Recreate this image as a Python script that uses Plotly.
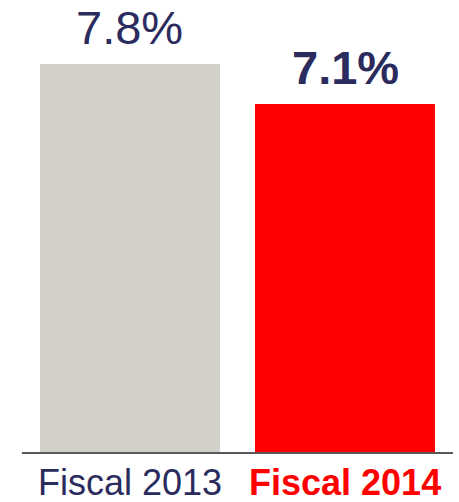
import plotly.graph_objects as go

# Chart data
categories = ["Fiscal 2013", "Fiscal 2014"]
values = [7.8, 7.1]
value_labels = ["7.8%", "7.1%"]

# Styling
bar_colors = ["#D3D0CA", "#FF0000"]
label_colors = ["#2B2B5E", "#FF0000"]
value_bold = [False, True]
label_bold = [False, True]
navy = "#2B2B5E"
font_family = "Liberation Sans, Arial, sans-serif"

fig = go.Figure(
    go.Bar(
        x=categories,
        y=values,
        marker=dict(color=bar_colors, line=dict(width=0)),
        width=0.835,
        hoverinfo="skip",
    )
)

# Value labels above each bar
for cat, val, txt, bold in zip(categories, values, value_labels, value_bold):
    fig.add_annotation(
        x=cat, y=val, xref="x", yref="y",
        text=f"<b>{txt}</b>" if bold else txt,
        showarrow=False, yanchor="bottom", yshift=8,
        font=dict(family=font_family, size=47, color=navy),
    )

# Category labels below the baseline
for cat, col, bold in zip(categories, label_colors, label_bold):
    fig.add_annotation(
        x=cat, y=0, xref="x", yref="paper",
        text=f"<b>{cat}</b>" if bold else cat,
        showarrow=False, yanchor="top", yshift=-8,
        font=dict(family=font_family, size=36, color=col),
    )

fig.update_layout(
    width=459, height=502,
    margin=dict(l=22, r=6, t=0, b=50),
    paper_bgcolor="white", plot_bgcolor="white",
    showlegend=False,
    bargap=0,
    xaxis=dict(
        range=[-0.5, 1.5], showticklabels=False, ticks="",
        showgrid=False, zeroline=False,
        showline=True, linecolor="#5A5A5A", linewidth=1.5,
    ),
    yaxis=dict(
        range=[1.01, 8.92], visible=False, showgrid=False, zeroline=False,
    ),
)

fig.write_html("out.html")
